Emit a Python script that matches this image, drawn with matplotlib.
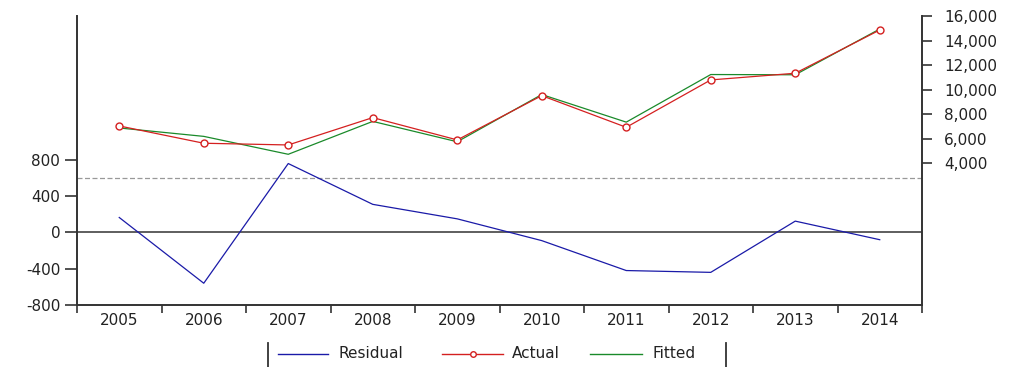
import matplotlib
matplotlib.use("Agg")
import matplotlib.pyplot as plt
from matplotlib.lines import Line2D
from matplotlib.ticker import FixedLocator, FuncFormatter

years = [2005, 2006, 2007, 2008, 2009, 2010, 2011, 2012, 2013, 2014]
residual = [165, -560, 760, 310, 150, -90, -420, -440, 125, -80]
actual = [7040, 5630, 5490, 7720, 5900, 9510, 6930, 10790, 11335, 14860]
fitted = [6875, 6190, 4730, 7410, 5750, 9600, 7350, 11230, 11210, 14940]

left_ticks = [-800, -400, 0, 400, 800]
right_ticks = [4000, 6000, 8000, 10000, 12000, 14000, 16000]

blue = "#1a1aa8"
red = "#d42020"
green = "#1a8a2a"
axis_col = "#333333"
text_col = "#222222"
fs = 11

plt.rcParams["font.family"] = ["DejaVu Sans"]

W, H = 1014, 367
fig = plt.figure(figsize=(W / 100, H / 100), dpi=100)
ax = fig.add_axes([77 / W, 1 - 305 / H, (922 - 77) / W, (305 - 16) / H])
ax2 = ax.twinx()

# Residual panel on the left scale
ax.set_xlim(years[0] - 0.5, years[-1] + 0.5)
ax.set_ylim(-800, 2387)
ax.axhline(0, color=axis_col, lw=1.1, zorder=1)
ax.axhline(600, color="#999999", lw=0.9, ls=(0, (4, 2)), zorder=1)
ax.plot(years, residual, color=blue, lw=0.9, zorder=3)

ax.yaxis.set_major_locator(FixedLocator(left_ticks))
ax.yaxis.set_major_formatter(FuncFormatter(lambda v, p: f"{int(v)}"))
ax.tick_params(axis="y", direction="out", length=9, width=1.2, color=axis_col,
               labelsize=fs, labelcolor=text_col, pad=3)

# Year labels centred between boundary ticks
ax.set_xticks([y - 0.5 for y in years] + [years[-1] + 0.5])
ax.set_xticklabels([])
ax.set_xticks(years, minor=True)
ax.set_xticklabels([str(y) for y in years], minor=True)
ax.tick_params(axis="x", which="major", direction="out", length=6, width=1.2, color=axis_col)
ax.tick_params(axis="x", which="minor", length=0, labelsize=fs, labelcolor=text_col, pad=6)

for side in ("left", "bottom"):
    ax.spines[side].set_color(axis_col)
    ax.spines[side].set_linewidth(1.4)
ax.spines["top"].set_visible(False)
ax.spines["right"].set_visible(False)

# Actual / fitted on the right scale
ax2.set_ylim(-7553, 16000)
ax2.plot(years, fitted, color=green, lw=0.9, zorder=3)
ax2.plot(years, actual, color=red, lw=0.9, marker="o", markersize=5,
         markerfacecolor="white", markeredgecolor=red, markeredgewidth=1.0, zorder=4)
ax2.yaxis.set_major_locator(FixedLocator(right_ticks))
ax2.yaxis.set_major_formatter(FuncFormatter(lambda v, p: f"{int(v):,}"))
ax2.tick_params(axis="y", direction="out", length=7, width=1.2, color=axis_col,
                labelsize=fs, labelcolor=text_col, pad=9)
ax2.spines["right"].set_color(axis_col)
ax2.spines["right"].set_linewidth(1.4)
for side in ("top", "left", "bottom"):
    ax2.spines[side].set_visible(False)

# Legend row below the plot, bracketed by vertical bars
legend_y = 1 - 354 / H
entries = [
    ("Residual", dict(color=blue), 278, 328, 338),
    ("Actual", dict(color=red, marker="o", markersize=4, markevery=[1],
                    markerfacecolor="white", markeredgecolor=red), 442, 503, 512),
    ("Fitted", dict(color=green), 590, 642, 652),
]
for label, style, x0, x1, xt in entries:
    fig.add_artist(Line2D([x0 / W, (x0 + x1) / 2 / W, x1 / W], [legend_y] * 3,
                          lw=1.0, transform=fig.transFigure, **style))
    fig.text(xt / W, legend_y, label, fontsize=fs, color=text_col,
             ha="left", va="center")
for xb in (268, 726):
    fig.add_artist(Line2D([xb / W, xb / W], [0, 1 - 343 / H],
                          color=axis_col, lw=1.3, transform=fig.transFigure))

fig.savefig("out.png", dpi=100, facecolor="white")
